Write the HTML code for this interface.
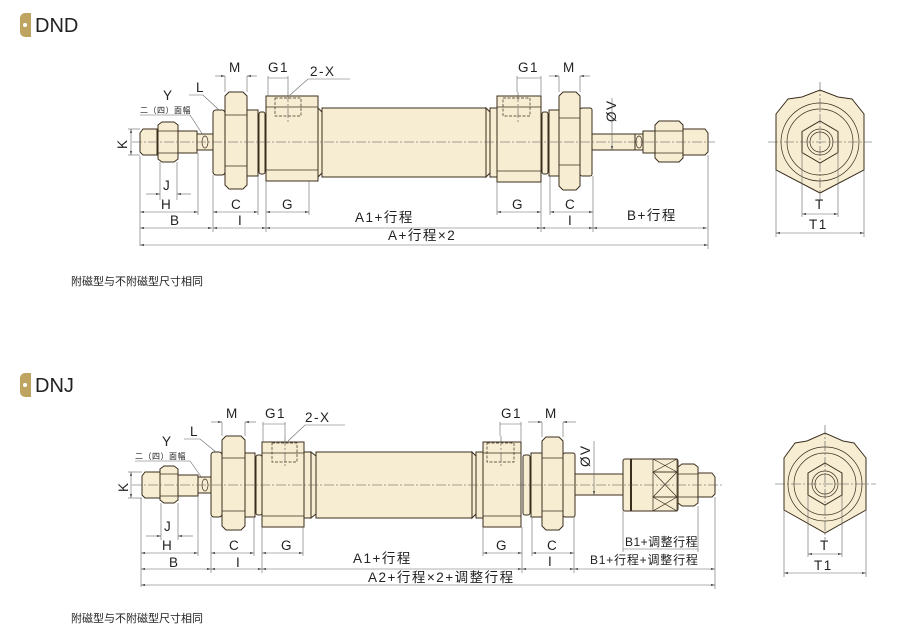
<!DOCTYPE html>
<html><head><meta charset="utf-8"><style>
html,body{margin:0;padding:0;background:#fff;}
svg{display:block;}
text{font-family:"Liberation Sans","Noto Sans CJK SC",sans-serif;fill:#222;}
.p{fill:#f7edd3;stroke:#3a2e1e;stroke-width:1;}
.l{stroke:#3a2e1e;stroke-width:0.7;fill:none;}
.d{stroke:#666;stroke-width:0.6;fill:none;}
.c{stroke:#555;stroke-width:0.6;fill:none;stroke-dasharray:10 2 2 2;}
.h{stroke:#3a2e1e;stroke-width:0.7;fill:none;stroke-dasharray:3 1.5;}
.t{font-size:13.5px;letter-spacing:1.5px;}
.s{font-size:8px;letter-spacing:0.5px;}
</style></head><body>
<svg width="917" height="643" viewBox="0 0 917 643" xmlns="http://www.w3.org/2000/svg">
<defs>
<marker id="a" viewBox="0 0 10 6" refX="10" refY="3" markerWidth="7" markerHeight="4" orient="auto-start-reverse"><path d="M0,0 L10,3 L0,6 Z" fill="#555"/></marker>
</defs>

<path d="M25,13 h6 v24 h-6 a5,5 0 0 1 -5,-5 v-14 a5,5 0 0 1 5,-5z" fill="#bfa461"/>
<circle cx="25" cy="25" r="2" fill="#fff"/>
<text x="35" y="32" style="font-size:20px">DND</text>
<path d="M25,373 h6 v24 h-6 a5,5 0 0 1 -5,-5 v-14 a5,5 0 0 1 5,-5z" fill="#bfa461"/>
<circle cx="25" cy="385" r="2" fill="#fff"/>
<text x="35" y="392" style="font-size:20px">DNJ</text>
<text x="71" y="285" style="font-size:11px">附磁型与不附磁型尺寸相同</text>
<text x="71" y="622" style="font-size:11px">附磁型与不附磁型尺寸相同</text>

<!-- ============ DND ============ -->
<g>
<path class="p" d="M157,129 L143,129 L140,133 L140,152 L143,155 L157,155 Z"/>
<path class="p" d="M158,125 L162,122 L174,122 L178,125 L178,159 L174,162 L162,162 L158,159 Z"/>
<line class="l" x1="158" y1="131" x2="178" y2="131"/><line class="l" x1="158" y1="153" x2="178" y2="153"/>
<rect class="p" x="178" y="131" width="19" height="22"/>
<rect class="p" x="197" y="134" width="16" height="16"/>
<ellipse class="l" cx="205" cy="142" rx="3" ry="6"/>
<rect class="p" x="213" y="110" width="12" height="65" rx="3"/>
<path class="p" d="M225,96 L229,92 L243,92 L247,96 L247,185 L243,189 L229,189 L225,185 Z"/>
<line class="l" x1="225" y1="115" x2="247" y2="115"/><line class="l" x1="225" y1="166" x2="247" y2="166"/>
<rect class="p" x="247" y="110" width="11" height="66"/>
<rect class="p" x="259" y="112" width="6" height="62" rx="2"/>
<rect class="p" x="266" y="96" width="52" height="85"/>
<line class="l" x1="266" y1="107" x2="318" y2="107"/><line class="l" x1="266" y1="170" x2="318" y2="170"/>
<rect class="h" x="275" y="98" width="26" height="18"/>
<line class="c" x1="288" y1="92" x2="288" y2="122"/>
<path class="p" d="M318,108 L322,112 L322,173 L318,177 Z"/>
<rect class="p" x="322" y="108" width="164" height="69"/>
<path class="p" d="M486,108 L490,112 L490,173 L486,177 Z"/>
<rect class="p" x="490" y="108" width="7" height="69"/>
<rect class="p" x="497" y="96" width="44" height="86"/>
<line class="l" x1="497" y1="107" x2="541" y2="107"/><line class="l" x1="497" y1="171" x2="541" y2="171"/>
<rect class="h" x="503" y="98" width="27" height="18"/>
<line class="c" x1="518" y1="92" x2="518" y2="122"/>
<rect class="p" x="542" y="112" width="6" height="62" rx="2"/>
<rect class="p" x="549" y="110" width="10" height="66"/>
<path class="p" d="M559,96 L563,92 L576,92 L580,96 L580,186 L576,190 L563,190 L559,186 Z"/>
<line class="l" x1="559" y1="118" x2="580" y2="118"/><line class="l" x1="559" y1="165" x2="580" y2="165"/>
<rect class="p" x="580" y="108" width="12" height="68" rx="2"/>
<rect class="p" x="592" y="134" width="43" height="16"/>
<rect class="p" x="635" y="134" width="8" height="16"/>
<ellipse class="l" cx="639" cy="142" rx="3" ry="6"/>
<rect class="p" x="643" y="131" width="12" height="22"/>
<path class="p" d="M655,125 L659,121 L679,121 L683,125 L683,158 L679,162 L659,162 L655,158 Z"/>
<line class="l" x1="655" y1="131" x2="683" y2="131"/><line class="l" x1="655" y1="153" x2="683" y2="153"/>
<path class="p" d="M683,129 L705,129 L708,133 L708,152 L705,155 L683,155 Z"/>
<line class="c" x1="132" y1="142" x2="715" y2="142"/>

<text class="t" x="229" y="72">M</text>
<line class="d" x1="225" y1="76" x2="225" y2="92"/><line class="d" x1="247" y1="76" x2="247" y2="92"/>
<line class="d" x1="215" y1="76" x2="225" y2="76" marker-end="url(#a)"/><line class="d" x1="257" y1="76" x2="247" y2="76" marker-end="url(#a)"/>
<text class="t" x="268" y="72">G1</text>
<line class="d" x1="268" y1="76" x2="268" y2="96"/><line class="d" x1="288" y1="76" x2="288" y2="92"/>
<line class="d" x1="268" y1="78" x2="288" y2="78"/>
<text class="t" x="310" y="76">2-X</text>
<path class="d" d="M350,79 L308,79 L290,95"/>
<text class="t" x="196" y="92">L</text>
<path class="d" d="M189,95 L203,95 L219,110"/>
<text class="t" x="163" y="100">Y</text>
<text class="s" x="140" y="113">二（四）面幅</text>
<path class="d" d="M140,115 L190,115 L203,135"/>
<text class="t" x="115" y="147" transform="rotate(-90 122 142)">K</text>
<line class="d" x1="128" y1="129" x2="140" y2="129"/><line class="d" x1="128" y1="155" x2="140" y2="155"/>
<line class="d" x1="131" y1="129" x2="131" y2="155" marker-start="url(#a)" marker-end="url(#a)"/>
<text class="t" x="608" y="122" transform="rotate(-90 612 118)">ØV</text>
<line class="d" x1="612" y1="98" x2="612" y2="150" marker-end="url(#a)"/>

<line class="d" x1="160" y1="162" x2="160" y2="200"/><line class="d" x1="177" y1="162" x2="177" y2="200"/>
<text class="t" x="163" y="190">J</text>
<line class="d" x1="146" y1="194" x2="160" y2="194" marker-end="url(#a)"/><line class="d" x1="191" y1="194" x2="177" y2="194" marker-end="url(#a)"/>
<line class="d" x1="140" y1="156" x2="140" y2="246"/><line class="d" x1="198" y1="153" x2="198" y2="215"/>
<text class="t" x="161" y="209">H</text>
<line class="d" x1="140" y1="212" x2="198" y2="212" marker-start="url(#a)" marker-end="url(#a)"/>
<text class="t" x="170" y="225">B</text>
<line class="d" x1="140" y1="228" x2="212" y2="228" marker-start="url(#a)" marker-end="url(#a)"/>
<line class="d" x1="213" y1="175" x2="213" y2="232"/><line class="d" x1="258" y1="176" x2="258" y2="215"/>
<text class="t" x="231" y="209">C</text>
<line class="d" x1="213" y1="212" x2="258" y2="212" marker-start="url(#a)" marker-end="url(#a)"/>
<line class="d" x1="266" y1="181" x2="266" y2="232"/>
<text class="t" x="238" y="225">I</text>
<line class="d" x1="213" y1="228" x2="266" y2="228" marker-start="url(#a)" marker-end="url(#a)"/>
<line class="d" x1="309" y1="181" x2="309" y2="215"/>
<text class="t" x="282" y="209">G</text>
<line class="d" x1="266" y1="212" x2="309" y2="212" marker-start="url(#a)" marker-end="url(#a)"/>
<text class="t" x="355" y="222">A1+行程</text>
<line class="d" x1="266" y1="228" x2="541" y2="228" marker-start="url(#a)" marker-end="url(#a)"/>
<text class="t" x="388" y="240">A+行程×2</text>
<line class="d" x1="140" y1="245" x2="708" y2="245" marker-start="url(#a)" marker-end="url(#a)"/>
<line class="d" x1="497" y1="182" x2="497" y2="215"/><line class="d" x1="541" y1="182" x2="541" y2="232"/>
<text class="t" x="512" y="209">G</text>
<line class="d" x1="497" y1="212" x2="541" y2="212" marker-start="url(#a)" marker-end="url(#a)"/>
<line class="d" x1="550" y1="176" x2="550" y2="215"/><line class="d" x1="593" y1="176" x2="593" y2="232"/>
<text class="t" x="565" y="209">C</text>
<line class="d" x1="550" y1="212" x2="593" y2="212" marker-start="url(#a)" marker-end="url(#a)"/>
<text class="t" x="568" y="225">I</text>
<line class="d" x1="541" y1="228" x2="593" y2="228" marker-start="url(#a)" marker-end="url(#a)"/>
<text class="t" x="627" y="220">B+行程</text>
<line class="d" x1="593" y1="228" x2="707" y2="228" marker-start="url(#a)" marker-end="url(#a)"/>
<line class="d" x1="708" y1="155" x2="708" y2="249"/>
<line class="d" x1="517" y1="76" x2="517" y2="92"/><line class="d" x1="541" y1="76" x2="541" y2="96"/>
<text class="t" x="518" y="72">G1</text>
<line class="d" x1="517" y1="78" x2="541" y2="78"/>
<text class="t" x="563" y="72">M</text>
<line class="d" x1="559" y1="76" x2="559" y2="92"/><line class="d" x1="580" y1="76" x2="580" y2="92"/>
<line class="d" x1="549" y1="76" x2="559" y2="76" marker-end="url(#a)"/><line class="d" x1="590" y1="76" x2="580" y2="76" marker-end="url(#a)"/>
</g>

<g>
<path class="p" d="M776,114 L788,99 L802,97 L820,90 L838,97 L852,99 L864,114 L864,170 L820,193 L776,170 Z"/>
<circle class="l" cx="820" cy="142" r="39"/>
<circle class="l" cx="820" cy="142" r="33"/>
<path class="p" d="M820,121 L838,131.5 L838,152.5 L820,163 L802,152.5 L802,131.5 Z"/>
<circle class="l" cx="820" cy="142" r="13"/>
<circle class="l" cx="820" cy="142" r="10"/>
<line class="c" x1="768" y1="142" x2="872" y2="142"/><line class="c" x1="820" y1="82" x2="820" y2="200"/>
<line class="d" x1="802" y1="152" x2="802" y2="217"/><line class="d" x1="838" y1="152" x2="838" y2="217"/>
<text class="t" x="815" y="209">T</text>
<line class="d" x1="802" y1="214" x2="838" y2="214" marker-start="url(#a)" marker-end="url(#a)"/>
<line class="d" x1="776" y1="170" x2="776" y2="237"/><line class="d" x1="864" y1="170" x2="864" y2="237"/>
<text class="t" x="809" y="229">T1</text>
<line class="d" x1="776" y1="233" x2="864" y2="233" marker-start="url(#a)" marker-end="url(#a)"/>
</g>

<!-- ============ DNJ ============ -->
<g>
<path class="p" d="M160,472 L145,472 L142,476 L142,495 L145,498 L160,498 Z"/>
<path class="p" d="M160,469 L164,466 L174,466 L178,469 L178,500 L174,503 L164,503 L160,500 Z"/>
<line class="l" x1="160" y1="474" x2="178" y2="474"/><line class="l" x1="160" y1="496" x2="178" y2="496"/>
<rect class="p" x="178" y="475" width="20" height="21"/>
<rect class="p" x="198" y="477" width="13" height="16"/>
<ellipse class="l" cx="205" cy="485" rx="3" ry="6"/>
<rect class="p" x="211" y="452" width="11" height="65" rx="3"/>
<path class="p" d="M222,440 L226,436 L241,436 L245,440 L245,526 L241,530 L226,530 L222,526 Z"/>
<line class="l" x1="222" y1="458" x2="245" y2="458"/><line class="l" x1="222" y1="511" x2="245" y2="511"/>
<rect class="p" x="245" y="453" width="10" height="64"/>
<rect class="p" x="256" y="455" width="6" height="60" rx="2"/>
<rect class="p" x="262" y="442" width="42" height="85"/>
<line class="l" x1="262" y1="453" x2="304" y2="453"/><line class="l" x1="262" y1="516" x2="304" y2="516"/>
<rect class="h" x="272" y="443" width="25" height="19"/>
<line class="c" x1="285" y1="436" x2="285" y2="468"/>
<rect class="p" x="304" y="452" width="7" height="66"/>
<path class="p" d="M311,452 L316,456 L316,514 L311,518 Z"/>
<rect class="p" x="316" y="452" width="156" height="66"/>
<path class="p" d="M472,452 L476,456 L476,514 L472,518 Z"/>
<rect class="p" x="476" y="452" width="7" height="66"/>
<rect class="p" x="483" y="442" width="38" height="85"/>
<line class="l" x1="483" y1="453" x2="521" y2="453"/><line class="l" x1="483" y1="516" x2="521" y2="516"/>
<rect class="h" x="487" y="443" width="27" height="19"/>
<line class="c" x1="501" y1="436" x2="501" y2="468"/>
<rect class="p" x="523" y="455" width="7" height="60" rx="2"/>
<rect class="p" x="531" y="453" width="11" height="64"/>
<path class="p" d="M542,441 L546,437 L559,437 L563,441 L563,526 L559,530 L546,530 L542,526 Z"/>
<line class="l" x1="542" y1="458" x2="563" y2="458"/><line class="l" x1="542" y1="511" x2="563" y2="511"/>
<rect class="p" x="563" y="453" width="12" height="64" rx="2"/>
<rect class="p" x="575" y="474" width="48" height="21"/>
<rect class="p" x="623" y="459" width="55" height="52" rx="2"/>
<line x1="631" y1="459" x2="631" y2="511" stroke="#3a2e1e" stroke-width="2"/>
<rect class="l" x="653" y="459" width="24" height="13"/><rect class="l" x="653" y="472" width="24" height="25"/><rect class="l" x="653" y="497" width="24" height="14"/>
<path class="l" d="M653,459 L677,472 M677,459 L653,472 M653,472 L677,497 M677,472 L653,497 M653,497 L677,511 M677,497 L653,511"/>
<path class="p" d="M678,467 L682,464 L694,464 L698,467 L698,503 L694,506 L682,506 L678,503 Z"/>
<line class="l" x1="678" y1="474" x2="698" y2="474"/><line class="l" x1="678" y1="497" x2="698" y2="497"/>
<path class="p" d="M698,473 L712,473 L715,477 L715,494 L712,497 L698,497 Z"/>
<line class="c" x1="132" y1="485" x2="722" y2="485"/>

<text class="t" x="226" y="418">M</text>
<line class="d" x1="222" y1="422" x2="222" y2="436"/><line class="d" x1="245" y1="422" x2="245" y2="436"/>
<line class="d" x1="211" y1="422" x2="222" y2="422" marker-end="url(#a)"/><line class="d" x1="256" y1="422" x2="245" y2="422" marker-end="url(#a)"/>
<text class="t" x="265" y="418">G1</text>
<line class="d" x1="263" y1="422" x2="263" y2="442"/><line class="d" x1="285" y1="422" x2="285" y2="436"/>
<line class="d" x1="263" y1="424" x2="285" y2="424"/>
<text class="t" x="305" y="422">2-X</text>
<path class="d" d="M345,425 L305,425 L288,441"/>
<text class="t" x="190" y="436">L</text>
<path class="d" d="M184,439 L200,439 L216,452"/>
<text class="t" x="162" y="446">Y</text>
<text class="s" x="135" y="459">二（四）面幅</text>
<path class="d" d="M135,461 L190,461 L202,478"/>
<text class="t" x="116" y="490" transform="rotate(-90 123 485)">K</text>
<line class="d" x1="128" y1="472" x2="142" y2="472"/><line class="d" x1="128" y1="498" x2="142" y2="498"/>
<line class="d" x1="131" y1="472" x2="131" y2="498" marker-start="url(#a)" marker-end="url(#a)"/>
<text class="t" x="578" y="465" transform="rotate(-90 585 460)">ØV</text>
<line class="d" x1="594" y1="441" x2="594" y2="495" marker-end="url(#a)"/>

<line class="d" x1="161" y1="503" x2="161" y2="540"/><line class="d" x1="178" y1="503" x2="178" y2="540"/>
<text class="t" x="164" y="531">J</text>
<line class="d" x1="146" y1="536" x2="161" y2="536" marker-end="url(#a)"/><line class="d" x1="193" y1="536" x2="178" y2="536" marker-end="url(#a)"/>
<line class="d" x1="141" y1="498" x2="141" y2="587"/><line class="d" x1="198" y1="496" x2="198" y2="556"/>
<text class="t" x="162" y="550">H</text>
<line class="d" x1="141" y1="553" x2="198" y2="553" marker-start="url(#a)" marker-end="url(#a)"/>
<text class="t" x="169" y="567">B</text>
<line class="d" x1="141" y1="569" x2="211" y2="569" marker-start="url(#a)" marker-end="url(#a)"/>
<line class="d" x1="211" y1="517" x2="211" y2="573"/><line class="d" x1="254" y1="517" x2="254" y2="556"/>
<text class="t" x="229" y="550">C</text>
<line class="d" x1="211" y1="553" x2="254" y2="553" marker-start="url(#a)" marker-end="url(#a)"/>
<line class="d" x1="262" y1="527" x2="262" y2="573"/>
<text class="t" x="236" y="567">I</text>
<line class="d" x1="211" y1="569" x2="262" y2="569" marker-start="url(#a)" marker-end="url(#a)"/>
<line class="d" x1="303" y1="527" x2="303" y2="556"/>
<text class="t" x="281" y="550">G</text>
<line class="d" x1="262" y1="553" x2="303" y2="553" marker-start="url(#a)" marker-end="url(#a)"/>
<text class="t" x="353" y="563">A1+行程</text>
<line class="d" x1="262" y1="569" x2="522" y2="569" marker-start="url(#a)" marker-end="url(#a)"/>
<text class="t" x="368" y="582">A2+行程×2+调整行程</text>
<line class="d" x1="141" y1="585" x2="715" y2="585" marker-start="url(#a)" marker-end="url(#a)"/>
<line class="d" x1="483" y1="527" x2="483" y2="556"/><line class="d" x1="522" y1="527" x2="522" y2="573"/>
<text class="t" x="496" y="550">G</text>
<line class="d" x1="483" y1="553" x2="522" y2="553" marker-start="url(#a)" marker-end="url(#a)"/>
<line class="d" x1="532" y1="517" x2="532" y2="556"/><line class="d" x1="574" y1="517" x2="574" y2="573"/>
<text class="t" x="547" y="550">C</text>
<line class="d" x1="532" y1="553" x2="574" y2="553" marker-start="url(#a)" marker-end="url(#a)"/>
<text class="t" x="548" y="566">I</text>
<line class="d" x1="522" y1="569" x2="574" y2="569" marker-start="url(#a)" marker-end="url(#a)"/>
<line class="d" x1="623" y1="511" x2="623" y2="552"/><line class="d" x1="698" y1="506" x2="698" y2="552"/>
<text x="625" y="546" style="font-size:12px;letter-spacing:0.5px">B1+调整行程</text>
<line class="d" x1="623" y1="549" x2="698" y2="549"/>
<text x="590" y="564" style="font-size:12px;letter-spacing:0.8px">B1+行程+调整行程</text>
<line class="d" x1="574" y1="569" x2="715" y2="569" marker-start="url(#a)" marker-end="url(#a)"/>
<line class="d" x1="715" y1="497" x2="715" y2="589"/>
<line class="d" x1="500" y1="422" x2="500" y2="436"/><line class="d" x1="521" y1="422" x2="521" y2="442"/>
<text class="t" x="501" y="418">G1</text>
<line class="d" x1="500" y1="424" x2="521" y2="424"/>
<text class="t" x="545" y="418">M</text>
<line class="d" x1="542" y1="422" x2="542" y2="437"/><line class="d" x1="563" y1="422" x2="563" y2="437"/>
<line class="d" x1="528" y1="422" x2="542" y2="422" marker-end="url(#a)"/><line class="d" x1="576" y1="422" x2="563" y2="422" marker-end="url(#a)"/>
</g>

<g>
<path class="p" d="M784,458 L795,443 L807,441 L825,433 L843,441 L854,443 L866,458 L866,510 L825,533 L784,510 Z"/>
<circle class="l" cx="825" cy="484" r="37"/>
<circle class="l" cx="825" cy="484" r="31"/>
<path class="p" d="M825,463 L842,473 L842,495 L825,505 L808,495 L808,473 Z"/>
<circle class="l" cx="825" cy="484" r="13"/>
<circle class="l" cx="825" cy="484" r="10"/>
<line class="c" x1="775" y1="484" x2="876" y2="484"/><line class="c" x1="825" y1="425" x2="825" y2="540"/>
<line class="d" x1="808" y1="495" x2="808" y2="557"/><line class="d" x1="842" y1="495" x2="842" y2="557"/>
<text class="t" x="820" y="550">T</text>
<line class="d" x1="808" y1="554" x2="842" y2="554" marker-start="url(#a)" marker-end="url(#a)"/>
<line class="d" x1="784" y1="510" x2="784" y2="577"/><line class="d" x1="866" y1="510" x2="866" y2="577"/>
<text class="t" x="814" y="570">T1</text>
<line class="d" x1="784" y1="573" x2="866" y2="573" marker-start="url(#a)" marker-end="url(#a)"/>
</g>
</svg>
</body></html>
